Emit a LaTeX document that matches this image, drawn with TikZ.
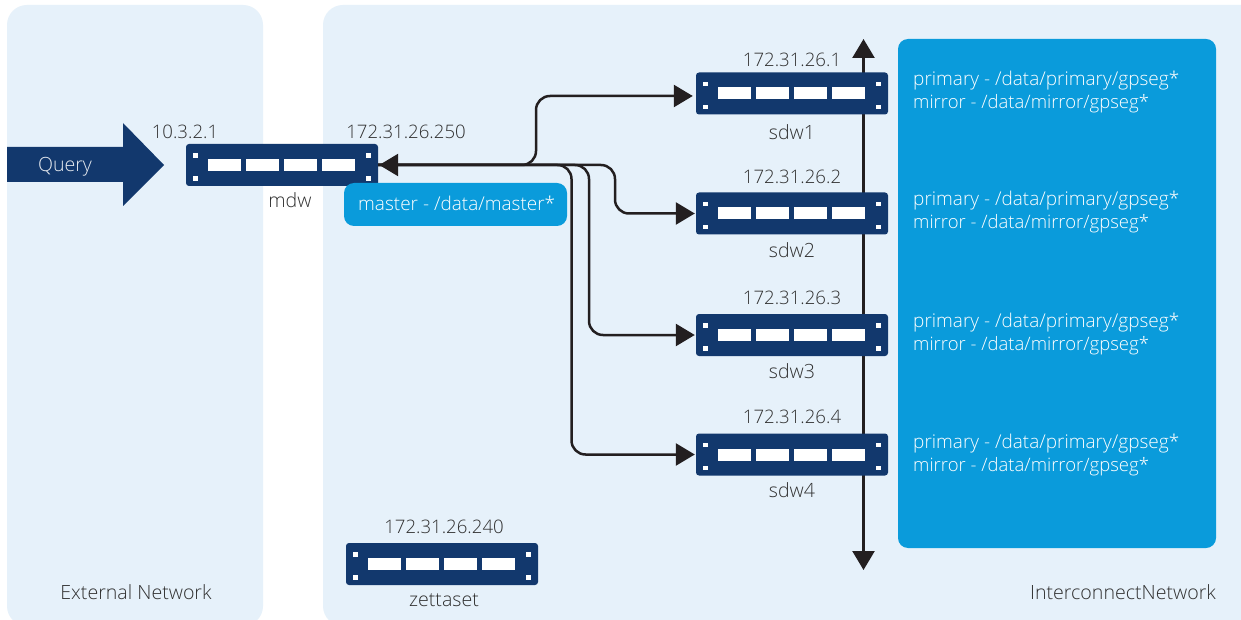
\documentclass[tikz,border=0pt]{standalone}
\usepackage{fontspec}
\setmainfont{Open Sans Light}[BoldFont={Open Sans}]
\usetikzlibrary{arrows.meta,calc}
\definecolor{panelblue}{HTML}{E6F1FA}
\definecolor{navy}{HTML}{12386D}
\definecolor{cyanblue}{HTML}{0A9BDB}
\definecolor{txt}{HTML}{303030}
\definecolor{wire}{HTML}{231F20}
\tikzset{
  x=1pt,y=-1pt,
  panel/.style={fill=panelblue,draw=none},
  dev/.style={draw=none,fill=navy,rounded corners=3pt,minimum width=192pt,minimum height=42pt,inner sep=0pt},
  lbl/.style={font=\fontsize{18.6}{22}\selectfont,text=txt,inner sep=0pt,anchor=base,yshift=-0.7pt},
  namelbl/.style={lbl,font=\fontsize{19.6}{22}\selectfont},
  wtxt/.style={font=\fontsize{19}{23}\selectfont,text=white,inner sep=0pt,anchor=base west,yshift=-1pt},
  mtxt/.style={wtxt,font=\fontsize{18.5}{23}\selectfont},
  conn/.style={draw=wire,line width=2.5pt,rounded corners=14pt,-{Triangle[length=19pt,width=22pt]},shorten >=1pt},
  bus/.style={draw=wire,line width=2.5pt,{Triangle[length=19pt,width=22pt]}-{Triangle[length=19pt,width=22pt]}},
}
\newcommand{\devports}[1]{%
  \fill[white] ($(#1.west)+(7.3,-11.7)$) rectangle ++(4.6,4.6);
  \fill[white] ($(#1.west)+(7.3,11.2)$) rectangle ++(4.6,4.6);
  \fill[white] ($(#1.east)+(-11.9,-11.7)$) rectangle ++(4.6,4.6);
  \fill[white] ($(#1.east)+(-11.9,11.2)$) rectangle ++(4.6,4.6);
  \fill[white] ($(#1.west)+(22,-6)$) rectangle ++(33,12);
  \fill[white] ($(#1.west)+(60,-6)$) rectangle ++(33,12);
  \fill[white] ($(#1.west)+(98,-6)$) rectangle ++(33,12);
  \fill[white] ($(#1.west)+(136,-6)$) rectangle ++(33,12);
}
\begin{document}
\begin{tikzpicture}
\useasboundingbox (0,0) rectangle (1241,620);
\fill[white] (0,0) rectangle (1241,620);
\begin{scope}
\clip (0,0) rectangle (1241,620);
\fill[panel,rounded corners=20pt] (7,5) rectangle (263,626);
\fill[panel,rounded corners=20pt] (323,5) rectangle (1280,626);
\end{scope}
\node[namelbl] (ext) at (136,599) {External Network};
\node[namelbl] (inter) at (1123,599) {InterconnectNetwork};
\fill[cyanblue,rounded corners=10pt] (898,39) rectangle (1216,548);
\fill[navy] (7,147) -- (123,147) -- (123,123) -- (164,165) -- (123,206) -- (123,182) -- (7,182) -- cycle;
\node[font=\fontsize{19.6}{22}\selectfont,text=white!90!navy,inner sep=0pt,anchor=base] (q) at (65,172) {Query};
\coordinate (bustop) at (863.5,39);
\coordinate (busbot) at (863.5,570);
\draw[bus] (bustop) -- (busbot);
\node[dev] (mdw) at (282,165) {};
\node[dev] (sdw1) at (792,93.5) {};
\node[dev] (sdw2) at (792,213.5) {};
\node[dev] (sdw3) at (792,335) {};
\node[dev] (sdw4) at (792,454.5) {};
\node[dev] (zet) at (442,564) {};
\devports{mdw}\devports{sdw1}\devports{sdw2}\devports{sdw3}\devports{sdw4}\devports{zet}
\fill[cyanblue,rounded corners=10pt] (344,183) rectangle (567,226);
\node[wtxt] (mm) at (358,210) {master - /data/master*};
\coordinate (b1) at (536,0);
\coordinate (b2) at (615,0);
\coordinate (b3) at (589,0);
\coordinate (b4) at (571.5,0);
\coordinate (in1) at ($(sdw1.west)+(-2,2.5)$);
\draw[conn] (mdw.east) -- (b1 |- mdw.east) -- (b1 |- in1) -- (in1);
\draw[conn] (mdw.east) -- (b2 |- mdw.east) -- (b2 |- sdw2.west) -- (sdw2.west);
\draw[conn] (mdw.east) -- (b3 |- mdw.east) -- (b3 |- sdw3.west) -- (sdw3.west);
\draw[conn] (mdw.east) -- (b4 |- mdw.east) -- (b4 |- sdw4.west) -- (sdw4.west);
\draw[draw=wire,line width=2.5pt,-{Triangle[length=19pt,width=22pt]}] ($(mdw.east)+(30,0)$) -- ($(mdw.east)+(1,0)$);
\node[lbl] (ip0) at (185,138) {10.3.2.1};
\node[lbl] (ip1) at (406,138) {172.31.26.250};
\node[namelbl] (l0) at (290,207) {mdw};
\node[lbl] (ip2) at (792,66) {172.31.26.1};
\node[namelbl] (l1) at (792,139) {sdw1};
\node[lbl] (ip3) at (792,183) {172.31.26.2};
\node[namelbl] (l2) at (792,257) {sdw2};
\node[lbl] (ip4) at (792,304) {172.31.26.3};
\node[namelbl] (l3) at (792,378) {sdw3};
\node[lbl] (ip5) at (792,423) {172.31.26.4};
\node[namelbl] (l4) at (792,497) {sdw4};
\node[lbl] (ip6) at (444,533) {172.31.26.240};
\node[namelbl] (l5) at (444,606) {zettaset};
\node[wtxt] (p1) at (913,85) {primary - /data/primary/gpseg*};
\node[mtxt] (m1) at (913,108) {mirror - /data/mirror/gpseg*};
\node[wtxt] (p2) at (913,205) {primary - /data/primary/gpseg*};
\node[mtxt] (m2) at (913,228) {mirror - /data/mirror/gpseg*};
\node[wtxt] (p3) at (913,326) {primary - /data/primary/gpseg*};
\node[mtxt] (m3) at (913,349) {mirror - /data/mirror/gpseg*};
\node[wtxt] (p4) at (913,447) {primary - /data/primary/gpseg*};
\node[mtxt] (m4) at (913,470) {mirror - /data/mirror/gpseg*};
\end{tikzpicture}
\end{document}
